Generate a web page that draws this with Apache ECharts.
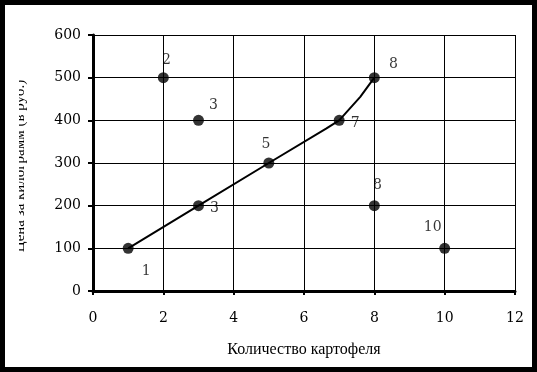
<!DOCTYPE html>
<html>
<head>
<meta charset="utf-8">
<script src="https://cdn.jsdelivr.net/npm/echarts@6/dist/echarts.min.js"></script>
<style>
html,body{margin:0;padding:0;background:#000;}
#chart{width:537px;height:372px;}
</style>
</head>
<body>
<div id="chart"></div>
<script>
// Data
var pointX = [1, 2, 3, 3, 5, 7, 8, 8, 10];
var pointY = [100, 500, 400, 200, 300, 400, 500, 200, 100];
var pointLabels = ['1', '2', '3', '3', '5', '7', '8', '8', '10'];
var curveX = [1, 3, 5, 6.64, 7, 7.6, 8];
var curveY = [100, 200, 300, 381, 400, 455, 500];
var xTicks = [0, 2, 4, 6, 8, 10, 12];
var yTicks = [0, 100, 200, 300, 400, 500, 600];
var xTitle = 'Количество картофеля';
var yTitle = 'Цена за килограмм (в руб.)';

// label placement (style only)
var labelOffsets = [[18, 23], [3, -17], [15, -15], [16, 3], [-3, -19], [16, 3], [19, -13], [3, -20], [-12, -21]];

var chart = echarts.init(document.getElementById('chart'), null, {renderer: 'canvas'});
var tickFont = {fontFamily: 'DejaVu Serif', fontSize: 14, color: '#000'};

var scatterData = pointX.map(function (x, i) {
  return {
    value: [x, pointY[i]],
    label: {
      show: true, position: 'inside', formatter: pointLabels[i],
      offset: labelOffsets[i], color: '#000',
      fontFamily: 'DejaVu Serif', fontSize: 14
    }
  };
});

chart.setOption({
  backgroundColor: '#fff',
  animation: false,
  graphic: [
    {type: 'rect', z: 100, shape: {x: 0, y: 0, width: 537, height: 372},
     style: {fill: 'none', stroke: '#000', lineWidth: 10}},
    {type: 'text', z: 50, x: 28, y: 166, rotation: Math.PI / 2,
     style: {text: yTitle, fill: '#000', font: '15px "Liberation Serif"', textAlign: 'center', textVerticalAlign: 'bottom'}},
    {type: 'rect', z: 60, shape: {x: 5, y: 5, width: 14, height: 362}, style: {fill: '#fff'}}
  ],
  grid: {left: 93, right: 22, top: 35, bottom: 81, show: false},
  xAxis: {
    type: 'value', min: 0, max: 12, interval: 2,
    name: xTitle, nameLocation: 'middle', nameGap: 51,
    nameTextStyle: {fontFamily: 'Liberation Serif', fontSize: 16, color: '#000'},
    axisLine: {show: true, onZero: false, lineStyle: {color: '#000', width: 3}},
    axisTick: {show: true, length: 4, lineStyle: {color: '#000', width: 2}},
    axisLabel: Object.assign({margin: 20, formatter: function (v) { return xTicks.indexOf(v) >= 0 ? String(v) : ''; }}, tickFont),
    splitLine: {show: true, lineStyle: {color: '#000', width: 1}}
  },
  yAxis: {
    type: 'value', min: 0, max: 600, interval: 100,
    axisLine: {show: true, onZero: false, lineStyle: {color: '#000', width: 3}},
    axisTick: {show: true, length: 5, lineStyle: {color: '#000', width: 2}},
    axisLabel: Object.assign({margin: 12, formatter: function (v) { return yTicks.indexOf(v) >= 0 ? String(v) : ''; }}, tickFont),
    splitLine: {show: true, lineStyle: {color: '#000', width: 1}}
  },
  series: [
    {
      type: 'line', z: 3,
      data: curveX.map(function (x, i) { return [x, curveY[i]]; }),
      showSymbol: false, symbol: 'none',
      lineStyle: {color: '#000', width: 2}
    },
    {
      type: 'scatter', z: 4,
      data: scatterData,
      symbol: 'circle', symbolSize: 11,
      itemStyle: {color: '#000'}
    }
  ]
});
</script>
</body>
</html>
